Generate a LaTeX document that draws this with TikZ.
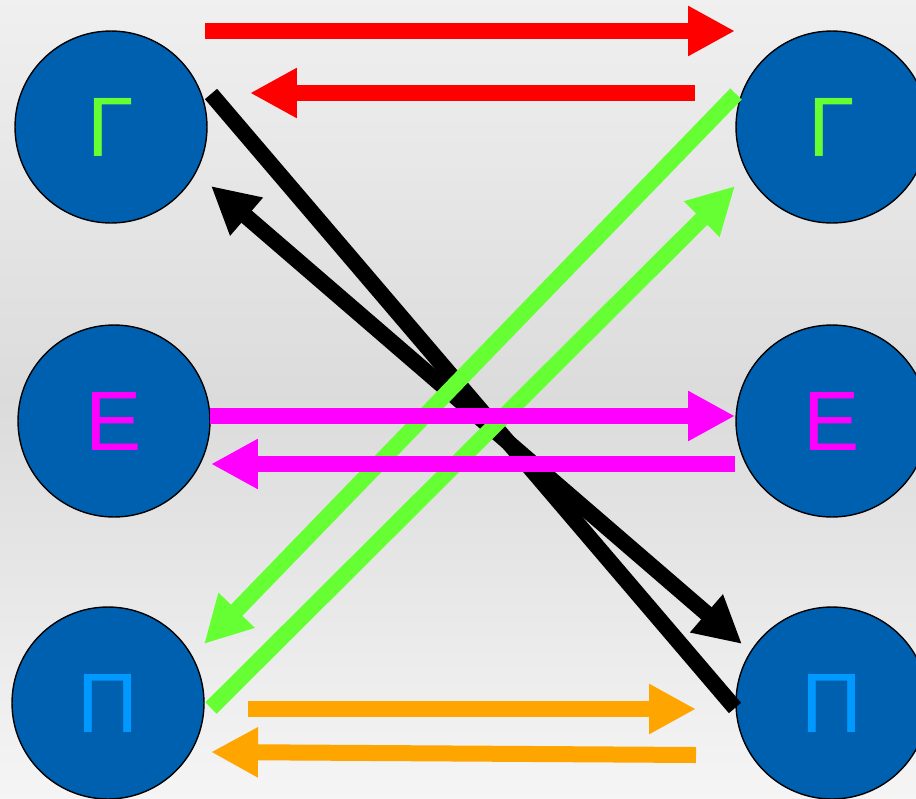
\documentclass[tikz,border=0pt]{standalone}
\usepackage{fontspec}
\setmainfont{Liberation Sans}
\usetikzlibrary{arrows.meta,calc}

\definecolor{discblue}{RGB}{0,96,176}
\definecolor{gammagreen}{RGB}{102,255,51}
\definecolor{epsmagenta}{RGB}{255,0,255}
\definecolor{pilblue}{RGB}{0,153,255}
\definecolor{linkorange}{RGB}{255,165,0}

\begin{document}
\begin{tikzpicture}[
  x=0.02cm, y=-0.02cm, line cap=butt,
  >={Triangle[length=0.94cm, width=0.94cm]},
  disc/.style={circle, draw=black, line width=0.8pt, fill=discblue,
               minimum size=3.84cm, inner sep=0pt,
               font=\fontsize{48}{48}\selectfont},
  lnk/.style={line width=0.32cm},
  arr/.style={lnk, ->}
]

  % ── Background ────────────────────────────────────────────────────────────

  \clip (0,0) rectangle (916,798);
  \shade[top color=black!6, bottom color=black!4, middle color=black!14]
    (0,0) rectangle (916,798);

  % ── Circles ───────────────────────────────────────────────────────────────

  \node[disc, text=gammagreen] (gl) at (111,127) {Γ};
  \node[disc, text=gammagreen] (gr) at (832,127) {Γ};
  \node[disc, text=epsmagenta] (el) at (114,421) {Ε};
  \node[disc, text=epsmagenta] (er) at (832,421) {Ε};
  \node[disc, text=pilblue]    (pl) at (108,703) {Π};
  \node[disc, text=pilblue]    (pr) at (832,703) {Π};

  % ── Links ─────────────────────────────────────────────────────────────────

  % Γ ↔ Γ
  \draw[arr, red] ($(gl)+(94,-96)$) -- ($(gr)+(-97,-96)$);
  \draw[arr, red] ($(gr)+(-137,-34)$) -- ($(gl)+(139,-34)$);

  % Γ ↔ Π (black, crossing)
  \draw[lnk, black] ($(gl)+(100,-33)$) -- ($(pr)+(-97,5)$);
  \draw[lnk, black, <->] ($(gl)+(100,59)$) -- ($(pr)+(-90,-59)$);

  % Γ ↔ Π (green, crossing)
  \draw[arr, gammagreen] ($(gr)+(-96,-33)$) -- ($(pl)+(96,-59)$);
  \draw[arr, gammagreen] ($(pl)+(103,5)$) -- ($(gr)+(-97,59)$);

  % Ε ↔ Ε
  \draw[arr, epsmagenta] ($(el)+(96,-5)$) -- ($(er)+(-97,-5)$);
  \draw[arr, epsmagenta] ($(er)+(-97,43)$) -- ($(el)+(97,43)$);

  % Π ↔ Π
  \draw[arr, linkorange] ($(pl)+(140,6)$) -- ($(pr)+(-136,6)$);
  \draw[arr, linkorange] ($(pr)+(-136,52)$) -- ($(pl)+(103,49)$);

\end{tikzpicture}
\end{document}
